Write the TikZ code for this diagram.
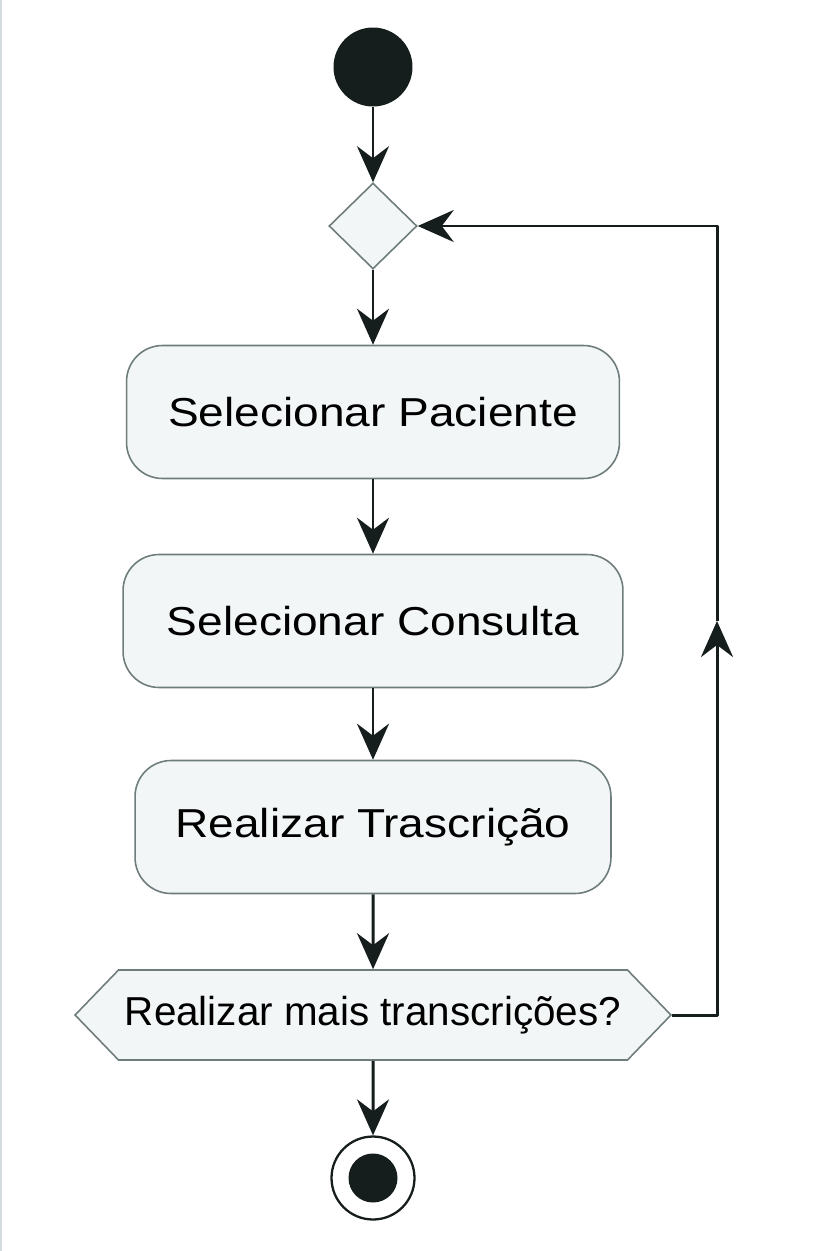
\documentclass[tikz,border=0pt]{standalone}
\usepackage{fontspec}
\setmainfont{Liberation Sans}
\newfontfamily\wideface[FakeStretch=1.14]{Liberation Sans}
\usetikzlibrary{shapes.geometric,shapes.symbols,arrows.meta}

\definecolor{boxfill}{HTML}{F3F6F6}
\definecolor{boxline}{HTML}{6F7C7C}
\definecolor{flowline}{HTML}{161D1D}
\definecolor{edgeline}{HTML}{D3DCDC}

\tikzset{
    action/.style={rectangle, rounded corners=0.72cm, draw=boxline, fill=boxfill,
        line width=0.9pt, minimum height=2.66cm, inner sep=0pt,
        font=\wideface\fontsize{23}{28}\selectfont},
    choicebox/.style={diamond, draw=boxline, fill=boxfill, line width=0.9pt,
        minimum width=1.76cm, minimum height=1.72cm, inner sep=0pt},
    checkbox/.style={signal, signal to=west and east, signal pointer angle=92,
        draw=boxline, fill=boxfill, line width=0.9pt, minimum width=11.92cm,
        minimum height=1.8cm, inner sep=0pt, font=\fontsize{23}{28}\selectfont},
    flow/.style={draw=flowline, line width=1.7pt, line join=round,
        -{Stealth[length=0.72cm,width=0.64cm,inset=0.24cm]}},
}

\begin{document}
\begin{tikzpicture}[x=0.02cm, y=-0.02cm]
    \useasboundingbox (0,0) rectangle (815,1251);
    \draw[edgeline, line width=1.2pt] (1,0) -- (1,1251);

    % nodes
    \node[circle, fill=flowline, minimum size=1.58cm, inner sep=0pt] (start) at (373,67) {};
    \node[choicebox] (choice) at (373,226) {};
    \node[action, minimum width=9.86cm] (patient) at (373,412) {Selecionar Paciente};
    \node[action, minimum width=10cm] (consult) at (373,621) {Selecionar Consulta};
    \node[action, minimum width=9.52cm] (transc) at (373,827) {Realizar Trascrição};
    \node[checkbox] (check) at (373,1015) {Realizar mais transcrições?};
    \node[circle, draw=flowline, fill=white, line width=1.3pt, minimum size=1.66cm, inner sep=0pt] (stop) at (373,1178) {};
    \fill[flowline] (stop.center) circle (24.5);

    % loop corners
    \coordinate (loopA) at (717,1015);
    \coordinate (loopMid) at (717,621);
    \coordinate (loopB) at (717,226);

    % flows
    \draw[flow] (start) -- (choice);
    \draw[flow] (choice) -- (patient);
    \draw[flow] (patient) -- (consult);
    \draw[flow] (consult) -- (transc);
    \draw[flow] (transc) -- (check);
    \draw[flow] (check) -- (stop);
    \draw[flow] (check.east) -- (loopA) -- (loopMid);
    \draw[flow] (loopMid) -- (loopB) -- (choice.east);
\end{tikzpicture}
\end{document}
